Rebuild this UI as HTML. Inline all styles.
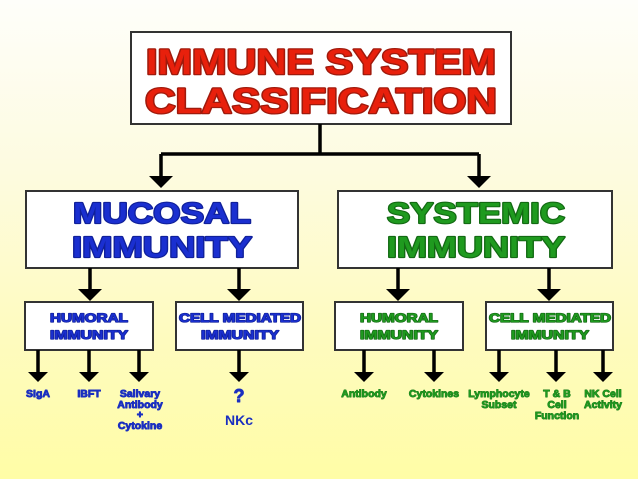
<!DOCTYPE html>
<html><head><meta charset="utf-8"><style>
html,body{margin:0;padding:0;width:638px;height:479px;overflow:hidden}
svg{display:block}
text{font-family:"Liberation Sans",sans-serif;font-weight:bold;text-anchor:middle;paint-order:stroke;stroke-linejoin:round}
.r{fill:#e8200c;stroke:#a01a0c;stroke-width:2.6}
.b{fill:#1a2fd0;stroke:#10209a;stroke-width:2.2}
.g{fill:#1f9a1f;stroke:#136a13;stroke-width:2.2}
.bs{fill:#1a2fd0;stroke:#10209a;stroke-width:1.3}
.gs{fill:#1f9a1f;stroke:#136a13;stroke-width:1.3}
.sb{fill:#1a2fc0;stroke:#1a2fc0;stroke-width:0.9}
.sg{fill:#1f9a1f;stroke:#1a7a1a;stroke-width:0.9}
</style></head><body>
<svg width="638" height="479" viewBox="0 0 638 479" xmlns="http://www.w3.org/2000/svg">
<defs>
<linearGradient id="bg" x1="0" y1="0" x2="0" y2="1">
<stop offset="0" stop-color="#fefefa"/>
<stop offset="0.35" stop-color="#fdfbe0"/>
<stop offset="0.7" stop-color="#fefbbf"/>
<stop offset="1" stop-color="#fffda6"/>
</linearGradient>
</defs>
<rect width="638" height="479" fill="url(#bg)"/>
<g fill="#fff" stroke="#333" stroke-width="2">
<rect x="131" y="32" width="380" height="92"/>
<rect x="26" y="191" width="272" height="77"/>
<rect x="338" y="191" width="274" height="77"/>
<rect x="25" y="302" width="128" height="48"/>
<rect x="176" y="302" width="127" height="48"/>
<rect x="335" y="302" width="128" height="48"/>
<rect x="486" y="302" width="127" height="48"/>
</g>
<g stroke="#000" stroke-width="3.5" fill="none">
<path d="M320 124V154M161 154H479M161 154V176M479 154V176"/>
<path d="M90 268V290M239 268V290M398 268V290M549 268V290"/>
<path d="M38 350V372M89 350V372M139 350V372M239 350V372M364 350V372M434 350V372M499 350V372M556 350V372M603 350V372"/>
</g>
<g fill="#000">
<polygon points="149,176 173,176 161,188"/>
<polygon points="467,176 491,176 479,188"/>
<polygon points="78,289 102,289 90,301"/>
<polygon points="227,289 251,289 239,301"/>
<polygon points="386,289 410,289 398,301"/>
<polygon points="537,289 561,289 549,301"/>
<polygon points="28,372 48,372 38,382"/><polygon points="79,372 99,372 89,382"/><polygon points="129,372 149,372 139,382"/><polygon points="229,372 249,372 239,382"/>
<polygon points="354,372 374,372 364,382"/><polygon points="424,372 444,372 434,382"/><polygon points="489,372 509,372 499,382"/><polygon points="546,372 566,372 556,382"/><polygon points="593,372 613,372 603,382"/>
</g>
<text class="r" x="321" y="74" font-size="35" textLength="350" lengthAdjust="spacingAndGlyphs">IMMUNE SYSTEM</text>
<text class="r" x="321" y="113" font-size="35" textLength="352" lengthAdjust="spacingAndGlyphs">CLASSIFICATION</text>
<text class="b" x="162" y="223" font-size="29" textLength="178" lengthAdjust="spacingAndGlyphs">MUCOSAL</text>
<text class="b" x="162" y="257" font-size="29" textLength="180" lengthAdjust="spacingAndGlyphs">IMMUNITY</text>
<text class="g" x="476" y="223" font-size="29" textLength="178" lengthAdjust="spacingAndGlyphs">SYSTEMIC</text>
<text class="g" x="476" y="257" font-size="29" textLength="178" lengthAdjust="spacingAndGlyphs">IMMUNITY</text>
<text class="bs" x="89" y="322" font-size="12" textLength="78" lengthAdjust="spacingAndGlyphs">HUMORAL</text>
<text class="bs" x="89" y="339" font-size="12" textLength="78" lengthAdjust="spacingAndGlyphs">IMMUNITY</text>
<text class="bs" x="240" y="322" font-size="12" textLength="122" lengthAdjust="spacingAndGlyphs">CELL MEDIATED</text>
<text class="bs" x="240" y="339" font-size="12" textLength="78" lengthAdjust="spacingAndGlyphs">IMMUNITY</text>
<text class="gs" x="399" y="322" font-size="12" textLength="78" lengthAdjust="spacingAndGlyphs">HUMORAL</text>
<text class="gs" x="399" y="339" font-size="12" textLength="78" lengthAdjust="spacingAndGlyphs">IMMUNITY</text>
<text class="gs" x="550" y="322" font-size="12" textLength="122" lengthAdjust="spacingAndGlyphs">CELL MEDIATED</text>
<text class="gs" x="550" y="339" font-size="12" textLength="78" lengthAdjust="spacingAndGlyphs">IMMUNITY</text>
<g font-size="10.5">
<text class="sb" x="38" y="397">SIgA</text>
<text class="sb" x="89" y="397">IBFT</text>
<text class="sb" x="140" y="397">Salivary</text>
<text class="sb" x="140" y="408">Antibody</text>
<text class="sb" x="140" y="418">+</text>
<text class="sb" x="140" y="429">Cytokine</text>
<text class="sg" x="364" y="397">Antibody</text>
<text class="sg" x="434" y="397">Cytokines</text>
<text class="sg" x="499" y="397">Lymphocyte</text>
<text class="sg" x="499" y="408">Subset</text>
<text class="sg" x="557" y="397">T &amp; B</text>
<text class="sg" x="557" y="408">Cell</text>
<text class="sg" x="557" y="419">Function</text>
<text class="sg" x="603" y="397">NK Cell</text>
<text class="sg" x="603" y="408">Activity</text>
</g>
<text class="sb" x="239" y="402" font-size="18">?</text>
<text x="239" y="425" font-size="14" fill="#1a2fc0">NKc</text>
</svg>
</body></html>
